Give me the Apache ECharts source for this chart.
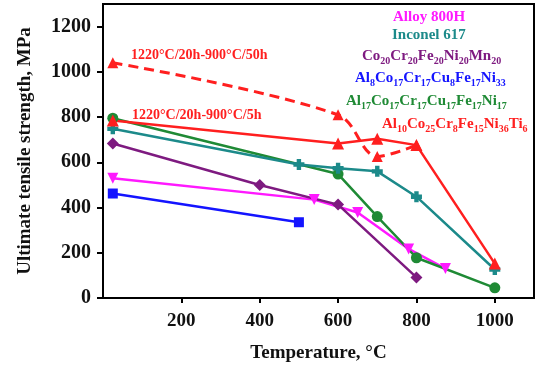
<!DOCTYPE html>
<html>
<head>
<meta charset="utf-8">
<script src="https://cdn.jsdelivr.net/npm/echarts@6/dist/echarts.min.js"></script>
<style>
  html, body { margin: 0; padding: 0; background: #fff; }
  #chart { width: 537px; height: 368px; }
</style>
</head>
<body>
<div id="chart"></div>
<script>
// data (temperature in °C, UTS in MPa)
const ti5hTemp = [25, 600, 700, 800, 1000];
const ti5hUts = [785, 683, 704, 676, 152];

const ti50hTemp = [25, 600, 700, 800];
const ti50hUts = [1040, 810, 626, 676];

const inconelTemp = [25, 500, 600, 700, 800, 1000];
const inconelUts = [748, 590, 574, 560, 448, 126];

const al17Temp = [25, 600, 700, 800, 1000];
const al17Uts = [795, 548, 360, 178, 45];

const cantorTemp = [25, 400, 600, 800];
const cantorUts = [683, 500, 413, 91];

const alloy800Temp = [25, 539, 650, 780, 874];
const alloy800Uts = [530, 435, 378, 217, 130];

const al8Temp = [25, 500];
const al8Uts = [462, 335];

const pairs = (xs, ys) => xs.map((x, i) => [x, ys[i]]);

const FONT = '"Liberation Serif", "Times New Roman", serif';

const C_RED = '#ff1f1f';
const C_TEAL = '#1c8a8a';
const C_GREEN = '#1f8a35';
const C_PURPLE = '#7e1a80';
const C_MAGENTA = '#ff19ff';
const C_BLUE = '#1414ff';

const crossPath = 'path://M3,0 L7,0 L7,3 L10,3 L10,7 L7,7 L7,10 L3,10 L3,7 L0,7 L0,3 L3,3 Z';

function line(name, data, color, symbol, size, extra) {
    return Object.assign({
        name: name,
        type: 'line',
        data: data,
        symbol: symbol,
        symbolSize: size,
        showSymbol: true,
        lineStyle: { color: color, width: 2.5 },
        itemStyle: { color: color },
        animation: false
    }, extra || {});
}

// legend-like coloured labels with subscripts
const rich = {
    n: { fontFamily: FONT, fontWeight: 'bold', fontSize: 15, lineHeight: 20 },
    s: { fontFamily: FONT, fontWeight: 'bold', fontSize: 10, lineHeight: 20, verticalAlign: 'bottom' }
};
function formula(parts) {
    // parts: [element, index, element, index, ...]
    let out = '';
    for (let i = 0; i < parts.length; i += 2) {
        out += '{n|' + parts[i] + '}';
        if (parts[i + 1]) out += '{s|' + parts[i + 1] + '}';
    }
    return out;
}
function label(text, x, y, color) {
    return {
        type: 'text',
        left: x, top: y,
        style: {
            text: text,
            fill: color,
            rich: JSON.parse(JSON.stringify(rich)),
            font: 'bold 15px ' + FONT
        }
    };
}

const chart = echarts.init(document.getElementById('chart'));

chart.setOption({
    backgroundColor: '#fff',
    grid: {
        left: 103, right: 3, top: 4, bottom: 66,
        show: true, borderColor: '#000', borderWidth: 2
    },
    xAxis: {
        type: 'value',
        min: 0, max: 1100, interval: 200,
        name: 'Temperature, °C',
        nameLocation: 'middle',
        nameGap: 46,
        nameTextStyle: { fontFamily: FONT, fontWeight: 'bold', fontSize: 19, color: '#111' },
        axisLine: { lineStyle: { color: '#000', width: 2 } },
        axisTick: { show: true, length: 5, lineStyle: { color: '#000', width: 2 } },
        axisLabel: {
            fontFamily: FONT, fontWeight: 'bold', fontSize: 19, color: '#111', margin: 14,
            showMinLabel: false, showMaxLabel: false,
            formatter: v => String(v)
        },
        splitLine: { show: false }
    },
    yAxis: {
        type: 'value',
        min: 0, max: 1300, interval: 200,
        name: 'Ultimate tensile strength, MPa',
        nameLocation: 'middle',
        nameGap: 68,
        nameTextStyle: { fontFamily: FONT, fontWeight: 'bold', fontSize: 19, color: '#111' },
        axisLine: { lineStyle: { color: '#000', width: 2 } },
        axisTick: { show: true, length: 6, lineStyle: { color: '#000', width: 2 } },
        axisLabel: {
            fontFamily: FONT, fontWeight: 'bold', fontSize: 20, color: '#111', margin: 12,
            showMaxLabel: false,
            formatter: v => String(v)
        },
        splitLine: { show: false }
    },
    series: [
        line('Alloy 800H', pairs(alloy800Temp, alloy800Uts), C_MAGENTA, 'triangle', 11, { symbolRotate: 180 }),
        line('Al8', pairs(al8Temp, al8Uts), C_BLUE, 'rect', 10),
        line('Cantor', pairs(cantorTemp, cantorUts), C_PURPLE, 'diamond', 12),
        line('Al17', pairs(al17Temp, al17Uts), C_GREEN, 'circle', 11),
        line('Inconel 617', pairs(inconelTemp, inconelUts), C_TEAL, crossPath, 11),
        line('Ti 5h', pairs(ti5hTemp, ti5hUts), C_RED, 'triangle', 12),
        line('Ti 50h', pairs(ti50hTemp, ti50hUts), C_RED, 'triangle', 11, {
            smooth: 0.35,
            lineStyle: { color: C_RED, width: 3, type: [10, 6] }
        })
    ],
    graphic: [
        { type: 'text', left: 131, top: 48, style: { text: '1220°C/20h-900°C/50h', fill: C_RED, font: 'bold 14px ' + FONT } },
        { type: 'text', left: 132, top: 108, style: { text: '1220°C/20h-900°C/5h', fill: C_RED, font: 'bold 14px ' + FONT } },
        label('{n|Alloy 800H}', 393, 10, C_MAGENTA),
        label('{n|Inconel 617}', 392, 28, C_TEAL),
        label(formula(['Co', '20', 'Cr', '20', 'Fe', '20', 'Ni', '20', 'Mn', '20']), 362, 49, C_PURPLE),
        label(formula(['Al', '8', 'Co', '17', 'Cr', '17', 'Cu', '8', 'Fe', '17', 'Ni', '33']), 355, 71, C_BLUE),
        label(formula(['Al', '17', 'Co', '17', 'Cr', '17', 'Cu', '17', 'Fe', '17', 'Ni', '17']), 346, 94, C_GREEN),
        label(formula(['Al', '10', 'Co', '25', 'Cr', '8', 'Fe', '15', 'Ni', '36', 'Ti', '6']), 382, 117, C_RED)
    ]
});
</script>
</body>
</html>
